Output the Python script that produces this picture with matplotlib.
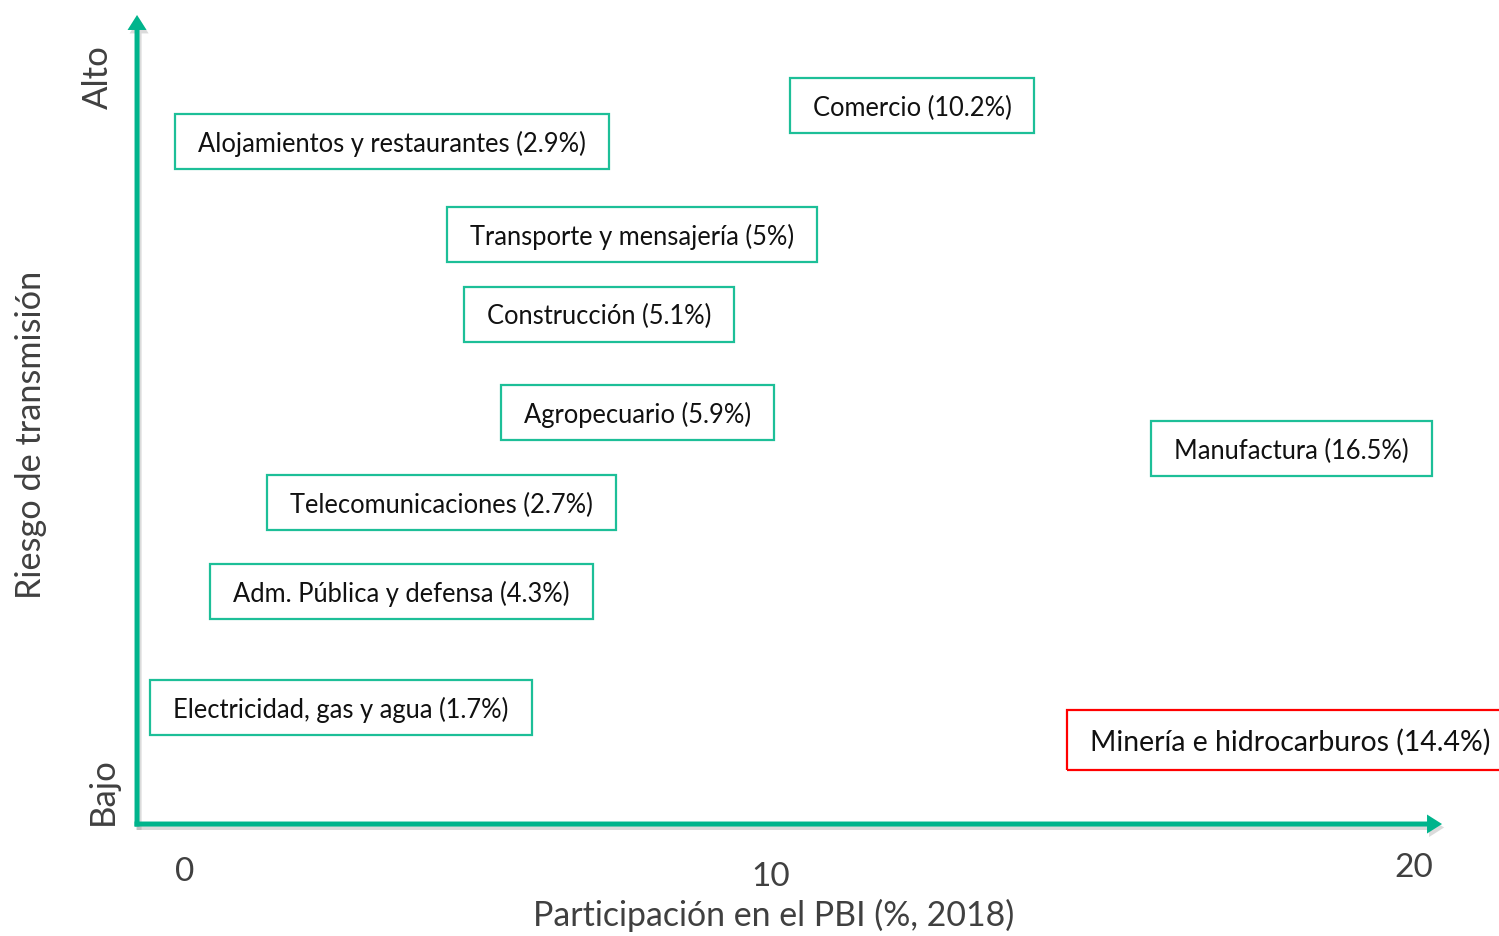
import matplotlib
matplotlib.use("Agg")
import matplotlib.pyplot as plt
from matplotlib.patches import Rectangle
import matplotlib.patheffects as pe

# ---------------- data ----------------
sectors = ["Alojamientos y restaurantes", "Comercio", "Transporte y mensajería",
           "Construcción", "Agropecuario", "Manufactura", "Telecomunicaciones",
           "Adm. Pública y defensa", "Electricidad, gas y agua",
           "Minería e hidrocarburos"]
shares = ["2.9", "10.2", "5", "5.1", "5.9", "16.5", "2.7", "4.3", "1.7", "14.4"]
# qualitative placement on the diagram (x: participation axis, y: risk axis 0-10)
place_x = [3.37, 11.83, 7.27, 6.74, 7.36, 18.01, 4.17, 3.52, 2.54, 17.98]
place_y = [8.44, 8.88, 7.29, 6.30, 5.09, 4.64, 3.97, 2.87, 1.44, 1.04]
highlight = [False] * 9 + [True]
x_ticks = [0, 10, 20]
x_label = "Participación en el PBI (%, 2018)"
y_label = "Riesgo de transmisión"
y_low, y_high = "Bajo", "Alto"

GREEN = "#00B48C"
BOX_GREEN = "#1DBF98"
RED = "#FF0000"
GREY = "#404040"
FONT = "Lato"

fig = plt.figure(figsize=(14.99, 9.36), dpi=100)
ax = fig.add_axes([0, 0, 1, 1])
ax.set_xlim(-3.011, 21.383)
ax.set_ylim(-1.384, 10.185)
ax.axis("off")

px_x = 61.45  # pixels per x unit
px_y = 80.9   # pixels per y unit
shadow = [pe.SimplePatchShadow(offset=(1.5, -2.5), shadow_rgbFace="#999999", alpha=0.35), pe.Normal()]

x0 = -0.781
# vertical arrow
ax.arrow(x0, -2.5 / px_y, 0, 10 + 2.5 / px_y, width=5 / px_x, head_width=19 / px_x,
         head_length=15 / px_y, length_includes_head=True, color=GREEN, lw=0,
         path_effects=shadow, zorder=3)
# horizontal arrow
ax.arrow(x0 - 2.5 / px_x, 0, 20.456 - x0 + 2.5 / px_x, 0, width=5 / px_y,
         head_width=19 / px_y, head_length=15 / px_x, length_includes_head=True,
         color=GREEN, lw=0, path_effects=shadow, zorder=3)

# axis texts
ax.text(-1.416, 9.23, y_high, rotation=90, ha="center", va="center",
        fontsize=25, color=GREY, family=FONT)
ax.text(-1.334, 0.41, y_low, rotation=90, ha="center", va="center",
        fontsize=25, color=GREY, family=FONT)
ax.text(-2.506, 4.81, y_label, rotation=90, ha="center", va="center",
        fontsize=24.7, color=GREY, family=FONT)
ax.text(9.585, -1.125, x_label, ha="center", va="center",
        fontsize=24.4, color=GREY, family=FONT)
tick_dx = [0, -29, 0]
tick_dy = [0, -5, 4]
for t, dx, dy in zip(x_ticks, tick_dx, tick_dy):
    ax.annotate(str(t), xy=(t, -0.57), xytext=(dx * 0.72, (dy - 2) * 0.72),
                textcoords="offset points", ha="center", va="center",
                fontsize=24, color=GREY, family=FONT)

# boxes
texts = []
for name, s, x, y, hl in zip(sectors, shares, place_x, place_y, highlight):
    fs = 20.4 if hl else 18.4
    t = ax.annotate(f"{name} ({s}%)", xy=(x, y), xytext=(0, -2.5 * 0.72),
                    textcoords="offset points", ha="center", va="center",
                    fontsize=fs, color="#111111", family=FONT, zorder=5)
    texts.append((t, x, y, hl))

fig.canvas.draw()
r = fig.canvas.get_renderer()
inv = ax.transData.inverted()
for t, x, y, hl in texts:
    bb = t.get_window_extent(r)
    cx, cy = ax.transData.transform((x, y))
    padx = 23
    h = 60 if hl else 55
    w = bb.width + 2 * padx
    (dx0, dy0) = inv.transform((cx - w / 2, cy - h / 2))
    (dx1, dy1) = inv.transform((cx + w / 2, cy + h / 2))
    ax.add_patch(Rectangle((dx0, dy0), dx1 - dx0, dy1 - dy0, fill=False,
                           edgecolor=RED if hl else BOX_GREEN, lw=1.6, zorder=4,
                           clip_on=False))

fig.savefig("out.png", dpi=100)
